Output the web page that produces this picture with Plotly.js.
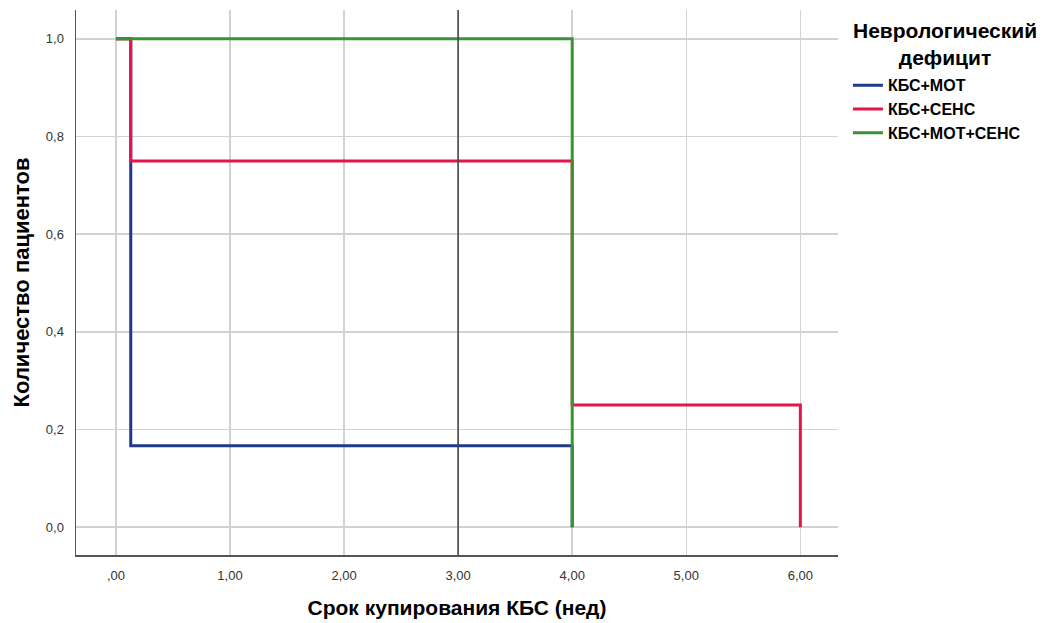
<!DOCTYPE html>
<html><head><meta charset="utf-8">
<script src="https://cdn.plot.ly/plotly-3.0.1.min.js"></script>
<style>body{margin:0;background:#fff}#chart{width:1048px;height:623px}</style>
</head><body><div id="chart"></div>
<script>
const seriesNames = ["КБС+МОТ", "КБС+СЕНС", "КБС+МОТ+СЕНС"];
const motTimes = [0, 0.13, 4.0];
const motSurv = [1.0, 0.1667, 0.0];
const sensTimes = [0, 0.13, 4.0, 6.0];
const sensSurv = [1.0, 0.75, 0.25, 0.0];
const motSensTimes = [0, 4.0];
const motSensSurv = [1.0, 0.0];
const colors = ["#1f3a8a", "#e2164a", "#3a9234"];
const xTickVals = [0, 1, 2, 3, 4, 5, 6];
const xTickText = [",00", "1,00", "2,00", "3,00", "4,00", "5,00", "6,00"];
const yTickVals = [0, 0.2, 0.4, 0.6, 0.8, 1.0];
const yTickText = ["0,0", "0,2", "0,4", "0,6", "0,8", "1,0"];
const refLineX = 3;
const legendTitle = "Неврологический<br>дефицит";

const font = "Liberation Sans, Arial, sans-serif";
const xs = [motTimes, sensTimes, motSensTimes];
const ys = [motSurv, sensSurv, motSensSurv];
const traces = seriesNames.map((n, i) => ({
  x: xs[i], y: ys[i], name: n, type: "scatter", mode: "lines",
  line: {shape: "hv", color: colors[i], width: 3}
}));

const layout = {
  width: 1048, height: 623,
  margin: {l: 76, r: 210, t: 10, b: 68},
  paper_bgcolor: "#fff", plot_bgcolor: "#fff",
  font: {family: font, color: "#222"},
  showlegend: true,
  legend: {
    x: 1.013, y: 0.893, xanchor: "left", yanchor: "top",
    font: {family: font, size: 16, weight: "bold", color: "#000"},
    tracegroupgap: 0, itemwidth: 30
  },
  annotations: [{
    text: legendTitle, xref: "paper", yref: "paper", x: 1.1404, y: 0.987,
    xanchor: "center", yanchor: "top", align: "center", showarrow: false,
    font: {family: font, size: 21, weight: "bold", color: "#000"}
  }],
  xaxis: {
    range: [-0.35, 6.33], tickvals: xTickVals, ticktext: xTickText,
    showgrid: true, gridcolor: "#d2d2d2", gridwidth: 1.5,
    zeroline: false, showline: true, linecolor: "#555", linewidth: 1.5,
    ticks: "", ticklabelstandoff: 8,
    tickfont: {family: font, size: 13, color: "#333"},
    title: {text: "Срок купирования КБС (нед)", standoff: 18,
            font: {family: font, size: 21, weight: "bold", color: "#000"}}
  },
  yaxis: {
    range: [-0.057, 1.059], tickvals: yTickVals, ticktext: yTickText,
    showgrid: true, gridcolor: "#d2d2d2", gridwidth: 1.5,
    zeroline: false, showline: true, linecolor: "#555", linewidth: 1.5,
    ticks: "", ticklabelstandoff: 8,
    tickfont: {family: font, size: 13, color: "#333"},
    title: {text: "Количество пациентов", standoff: 10,
            font: {family: font, size: 22, weight: "bold", color: "#000"}}
  },
  shapes: [{type: "line", xref: "x", yref: "paper", x0: refLineX, x1: refLineX, y0: 0, y1: 1,
            line: {color: "#444", width: 1.5}, layer: "above"}]
};
Plotly.newPlot("chart", traces, layout, {displayModeBar: false, staticPlot: true});
</script></body></html>
